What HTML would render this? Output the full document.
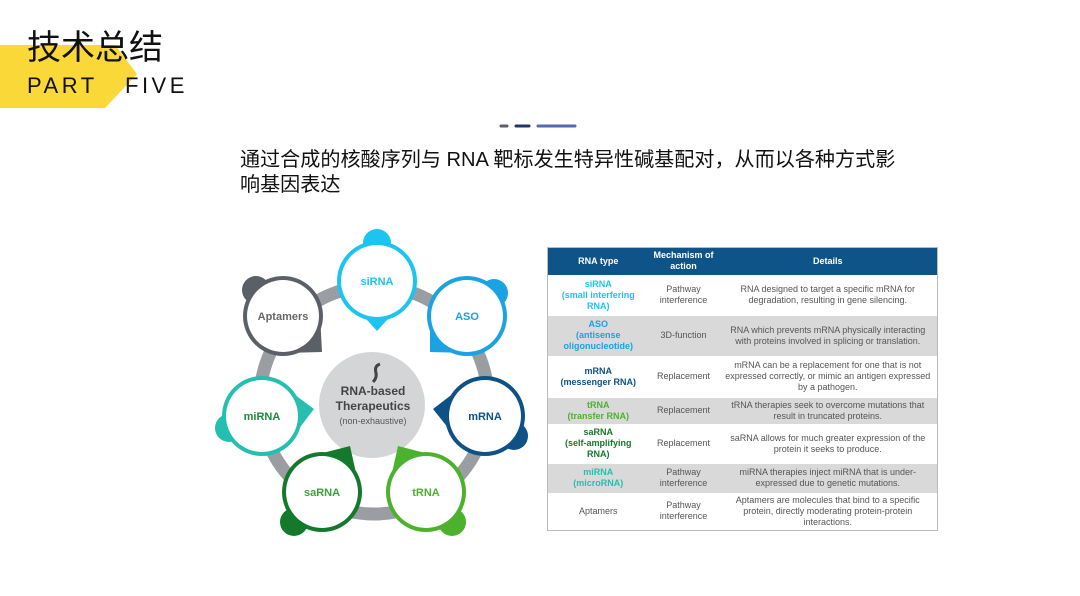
<!DOCTYPE html>
<html><head><meta charset="utf-8"><style>
*{margin:0;padding:0;box-sizing:border-box}
body{width:1080px;height:596px;background:#fff;position:relative;overflow:hidden;font-family:"Liberation Sans","Noto Sans CJK SC",sans-serif}
.abs{position:absolute}
table{border-collapse:collapse;font-family:"Liberation Sans",sans-serif;font-size:9px;color:#555;text-align:center}
td,th{padding:0 4px;line-height:11px}
th{background:#0f5488;color:#fff;font-weight:bold;height:27px}
tr.g td{background:#d9d9d9}
.b{font-weight:bold}
.pf{font-size:22px;line-height:28px;color:#111;letter-spacing:3.5px;font-family:'Liberation Sans',sans-serif}
</style></head><body>
<svg class="abs" style="left:0;top:0" width="1080" height="596">
<polygon points="0,45 115,45 137,74 105,108 0,108" fill="#f9d837"/>
<line x1="501" y1="126" x2="507" y2="126" stroke="#5a5e66" stroke-width="3" stroke-linecap="round"/>
<line x1="516" y1="126" x2="529" y2="126" stroke="#233466" stroke-width="3" stroke-linecap="round"/>
<line x1="538" y1="126" x2="575" y2="126" stroke="#5468ab" stroke-width="3" stroke-linecap="round"/>
<circle cx="374" cy="400" r="114" fill="none" stroke="#9a9da1" stroke-width="13"/>
<circle cx="372" cy="405" r="53" fill="#d4d5d7"/>
<path d="M380 364 q-6 2 -4 9 q1 5 -3 9" stroke="#444" stroke-width="3" fill="none"/>
<g font-family="Liberation Sans" text-anchor="middle">
<text x="373" y="395" font-size="12" font-weight="bold" fill="#444">RNA-based</text>
<text x="373" y="410" font-size="12" font-weight="bold" fill="#444">Therapeutics</text>
<text x="373" y="424" font-size="9" fill="#555">(non-exhaustive)</text>
</g>
<g font-family="Liberation Sans" font-weight="bold" font-size="11" text-anchor="middle">
<g fill="#1cc4f0"><circle cx="377" cy="243" r="14"/><polygon points="358,310 396,310 377,331"/><circle cx="377" cy="281" r="40"/><circle cx="377" cy="281" r="36" fill="#fff"/><text x="377" y="285">siRNA</text></g>
<g fill="#1aa2e2"><circle cx="494" cy="293" r="14"/><polygon points="467,353 430,313 430,352"/><circle cx="467" cy="316" r="40"/><circle cx="467" cy="316" r="36" fill="#fff"/><text x="467" y="320">ASO</text></g>
<g fill="#0e5186"><circle cx="514" cy="436" r="14"/><polygon points="463,386 457,439 433,409"/><circle cx="485" cy="416" r="40"/><circle cx="485" cy="416" r="36" fill="#fff"/><text x="485" y="420">mRNA</text></g>
<g fill="#4cb22d"><circle cx="452" cy="522" r="14"/><polygon points="437,456 390,482 398,446"/><circle cx="426" cy="492" r="40"/><circle cx="426" cy="492" r="36" fill="#fff"/><text x="426" y="496">tRNA</text></g>
<g fill="#137a2c"><circle cx="294" cy="522" r="14"/><polygon points="358,482 311,456 350,446"/><circle cx="322" cy="492" r="40"/><circle cx="322" cy="492" r="36" fill="#fff"/><text x="322" y="496" fill="#3aa23a">saRNA</text></g>
<g fill="#24bfae"><circle cx="229" cy="428" r="14"/><polygon points="291,439 283,386 314,409"/><circle cx="262" cy="416" r="40"/><circle cx="262" cy="416" r="36" fill="#fff"/><text x="262" y="420" fill="#1e8a3a">miRNA</text></g>
<g fill="#5a6066"><circle cx="256" cy="290" r="14"/><polygon points="320,314 284,353 322,352"/><circle cx="283" cy="316" r="40"/><circle cx="283" cy="316" r="36" fill="#fff"/><text x="283" y="320" fill="#666">Aptamers</text></g>
</g>
</svg>
<div class="abs" style="left:27px;top:24px;font-size:34px;line-height:42px;color:#111;font-family:'Noto Sans CJK SC',sans-serif">技术总结</div>
<div class="abs pf" style="left:27px;top:72px">PART</div>
<div class="abs pf" style="left:125px;top:72px">FIVE</div>
<div class="abs" style="left:240px;top:148px;width:700px;font-size:20.1px;line-height:25px;color:#111;font-family:'Liberation Sans','Noto Sans CJK SC',sans-serif">通过合成的核酸序列与 RNA 靶标发生特异性碱基配对，从而以各种方式影<br>响基因表达</div>
<table class="abs" style="left:547px;top:247px;width:391px;border:1px solid #bbb">
<colgroup><col style="width:101px"><col style="width:70px"><col></colgroup>
<tr><th>RNA type</th><th>Mechanism of action</th><th>Details</th></tr>
<tr style="height:41px"><td class="b" style="color:#1cc4f0">siRNA<br>(small interfering<br>RNA)</td><td>Pathway<br>interference</td><td>RNA designed to target a specific mRNA for degradation, resulting in gene silencing.</td></tr>
<tr class="g" style="height:40px"><td class="b" style="color:#1aa2e2">ASO<br>(antisense<br>oligonucleotide)</td><td>3D-function</td><td>RNA which prevents mRNA physically interacting with proteins involved in splicing or translation.</td></tr>
<tr style="height:42px"><td class="b" style="color:#0e5186">mRNA<br>(messenger RNA)</td><td>Replacement</td><td>mRNA can be a replacement for one that is not expressed correctly, or mimic an antigen expressed by a pathogen.</td></tr>
<tr class="g" style="height:26px"><td class="b" style="color:#4cb22d">tRNA<br>(transfer RNA)</td><td>Replacement</td><td>tRNA therapies seek to overcome mutations that result in truncated proteins.</td></tr>
<tr style="height:40px"><td class="b" style="color:#137a2c">saRNA<br>(self-amplifying<br>RNA)</td><td>Replacement</td><td>saRNA allows for much greater expression of the protein it seeks to produce.</td></tr>
<tr class="g" style="height:29px"><td class="b" style="color:#24bfae">miRNA<br>(microRNA)</td><td>Pathway<br>interference</td><td>miRNA therapies inject miRNA that is under-expressed due to genetic mutations.</td></tr>
<tr style="height:38px"><td>Aptamers</td><td>Pathway<br>interference</td><td>Aptamers are molecules that bind to a specific protein, directly moderating protein-protein interactions.</td></tr>
</table>
</body></html>
